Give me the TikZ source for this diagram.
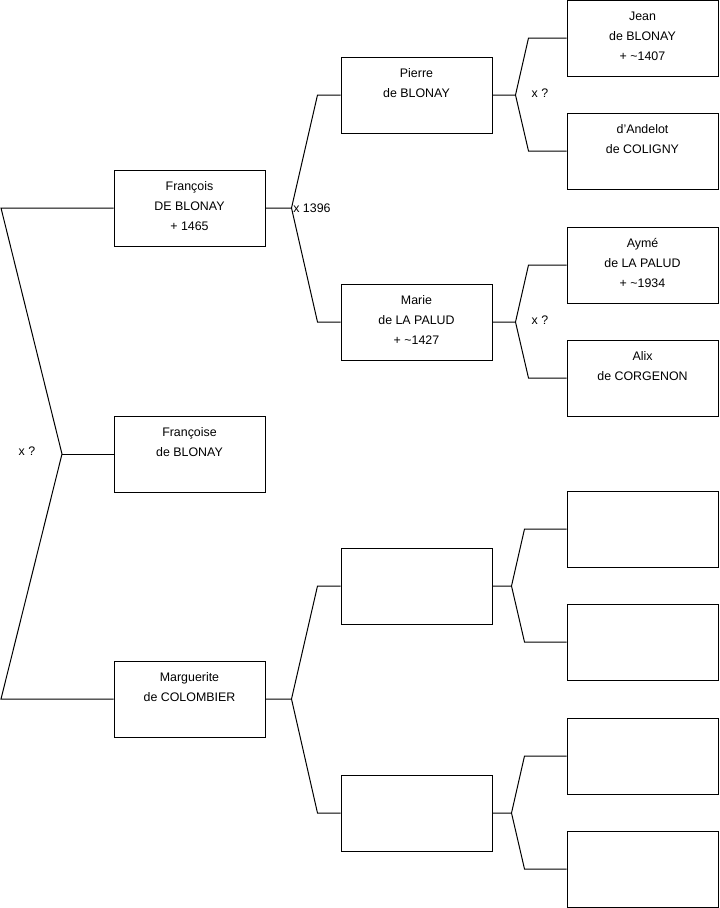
\documentclass[tikz,border=0pt]{standalone}
\usepackage{fontspec}
\setmainfont{Liberation Sans}
\usetikzlibrary{positioning,calc}

\begin{document}
\begin{tikzpicture}[x=0.75pt,y=-0.75pt,line width=0.75pt,
  every node/.style={font=\fontsize{9.3}{15}\selectfont},
  box/.style={draw,rectangle,minimum width=113.25pt,minimum height=57pt,inner sep=0pt},
  names/.style={align=center,inner sep=0pt}]
\useasboundingbox (0,0) rectangle (719,908);
% children
\node[box] (francois) at (189.5,208) {};
\node[box] (francoise) at (189.5,454) {};
\node[box] (marguerite) at (189.5,699) {};
\node[names,below=8.8pt] (francois-t) at (francois.north) {François\\DE BLONAY\\+ 1465};
\node[names,below=8.8pt] (francoise-t) at (francoise.north) {Françoise\\de BLONAY};
\node[names,below=8.8pt] (marguerite-t) at (marguerite.north) {Marguerite\\de COLOMBIER};
% parents
\node[box] (pierre) at (416.5,95) {};
\node[box] (marie) at (416.5,322) {};
\node[box] (e1) at (416.5,586) {};
\node[box] (e2) at (416.5,813) {};
\node[names,below=8.8pt] (pierre-t) at (pierre.north) {Pierre\\de BLONAY};
\node[names,below=8.8pt] (marie-t) at (marie.north) {Marie\\de LA PALUD\\+ \textasciitilde1427};
% grandparents
\node[box] (jean) at (642.5,38) {};
\node[box] (andelot) at (642.5,151) {};
\node[box] (ayme) at (642.5,265) {};
\node[box] (alix) at (642.5,378) {};
\foreach \n/\y in {e3/529,e4/642,e5/756,e6/869} {
   \node[box] (\n) at (642.5,\y) {};
}
\node[names,below=8.8pt] (jean-t) at (jean.north) {Jean\\de BLONAY\\+ \textasciitilde1407};
\node[names,below=8.8pt] (andelot-t) at (andelot.north) {d'Andelot\\de COLIGNY};
\node[names,below=8.8pt] (ayme-t) at (ayme.north) {Aymé\\de LA PALUD\\+ \textasciitilde1934};
\node[names,below=8.8pt] (alix-t) at (alix.north) {Alix\\de CORGENON};
% siblings bracket
\coordinate (a1) at (1,208);
\coordinate (a2) at (1,699);
\coordinate (j0) at (62,454);
\draw (francois.west) -- (a1) -- (j0) -- (a2) -- (marguerite.west);
\draw (j0) -- (francoise.west);
\node (m0) at (27,451) {x ?};
% forks
\foreach \p/\a/\b/\dj/\dk in %
{francois/pierre/marie/26/23,marguerite/e1/e2/26/23,pierre/jean/andelot/23/38,%
marie/ayme/alix/23/38,e1/e3/e4/19/42,e2/e5/e6/19/42} {
   \coordinate (\p-j) at ($(\p.east)+(\dj,0)$);
   \draw (\p.east) -- (\p-j) -- ($(\a.west)+(-\dk,0)$) -- (\a.west);
   \draw (\p-j) -- ($(\b.west)+(-\dk,0)$) -- (\b.west);
}
\node[anchor=west,inner sep=1pt] (m1) at (francois-j) {x 1396};
\node (m2) at (540,93) {x ?};
\node (m3) at (540,320) {x ?};
\end{tikzpicture}
\end{document}
